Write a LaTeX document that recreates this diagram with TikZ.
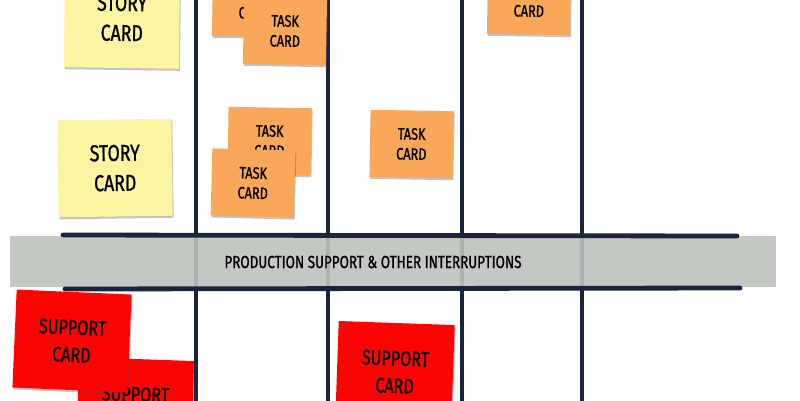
\documentclass[tikz,border=0pt]{standalone}
\usepackage{fontspec}
\newfontfamily\hand[FakeStretch=0.77,FakeBold=1]{Fira Sans}
\usetikzlibrary{shadows}
\definecolor{storyyellow}{RGB}{251,244,162}
\definecolor{taskorange}{RGB}{248,168,88}
\definecolor{supportred}{RGB}{252,4,4}
\definecolor{bandgray}{RGB}{190,194,189}
\definecolor{boardline}{RGB}{28,36,60}
\tikzset{
  card/.style={draw=none, inner sep=0pt, align=center, text=black,
    drop shadow={shadow xshift=1pt, shadow yshift=-2pt, opacity=0.35, fill=black!70}},
  story/.style={card, fill=storyyellow, font=\hand\fontsize{23}{30}\selectfont},
  task/.style={card, fill=taskorange, minimum width=83pt, minimum height=67pt, font=\hand\fontsize{16.5}{20}\selectfont},
  support/.style={card, fill=supportred, minimum width=115pt, minimum height=98pt, font=\hand\fontsize{21}{27.5}\selectfont},
  colline/.style={draw=boardline, line width=3.2pt},
  bandline/.style={draw=boardline, line width=4.8pt, line cap=round},
}
\begin{document}
\begin{tikzpicture}[x=1pt,y=-1pt]
\useasboundingbox (0,0) rectangle (800,400);
\clip (0,0) rectangle (800,400);
% column lines
\coordinate (c1t) at (196,-5); \coordinate (c1b) at (196,405);
\coordinate (c2t) at (328,-5); \coordinate (c2b) at (328,405);
\coordinate (c3t) at (462,-5); \coordinate (c3b) at (462,405);
\coordinate (c4t) at (582,-5); \coordinate (c4b) at (582,405);
\draw[colline] (c1t) -- (c1b);
\draw[colline] (c2t) -- (c2b);
\draw[colline] (c3t) -- (c3b);
\draw[colline] (c4t) -- (c4b);
% story cards
\node[story, minimum width=115pt, minimum height=100pt, rotate=-0.8] (story1) at (122,18) {STORY\\CARD};
\node[story, minimum width=114pt, minimum height=97pt, rotate=0.8] (story2) at (115,168) {STORY\\CARD};
% task cards
\node[task, rotate=-1] (task1) at (254,3) {TASK\\CARD};
\node[task, rotate=-1] (task2) at (285,31) {TASK\\CARD};
\node[task, rotate=-1] (task3) at (269.5,141) {TASK\\CARD};
\node[task, rotate=-1.5] (task4) at (253,183) {TASK\\CARD};
\node[task, rotate=-1] (task5) at (411.5,144) {TASK\\CARD};
\node[task, rotate=-1] (task6) at (529,1) {TASK\\CARD};
% interruption band
\node[fill=bandgray, fill opacity=0.9, inner sep=0pt, minimum width=766pt, minimum height=51pt] (band) at (393,261.5) {};
\node[font=\hand\fontsize{17.5}{20}\selectfont] (bandtext) at (373,262) {PRODUCTION SUPPORT \& OTHER INTERRUPTIONS};
\coordinate (btl) at (63,235); \coordinate (btr) at (737,236);
\coordinate (bbl) at (65,289); \coordinate (bbr) at (740,288);
\draw[bandline] (btl) -- (btr);
\draw[bandline] (bbl) -- (bbr);
% support cards
\node[support, rotate=-2] (sup2) at (135,408) {SUPPORT\\CARD};
\node[support, rotate=-2.5] (sup1) at (72,341) {SUPPORT\\CARD};
\node[support, minimum width=116pt, rotate=-2] (sup3) at (395,372) {SUPPORT\\CARD};
\end{tikzpicture}
\end{document}
